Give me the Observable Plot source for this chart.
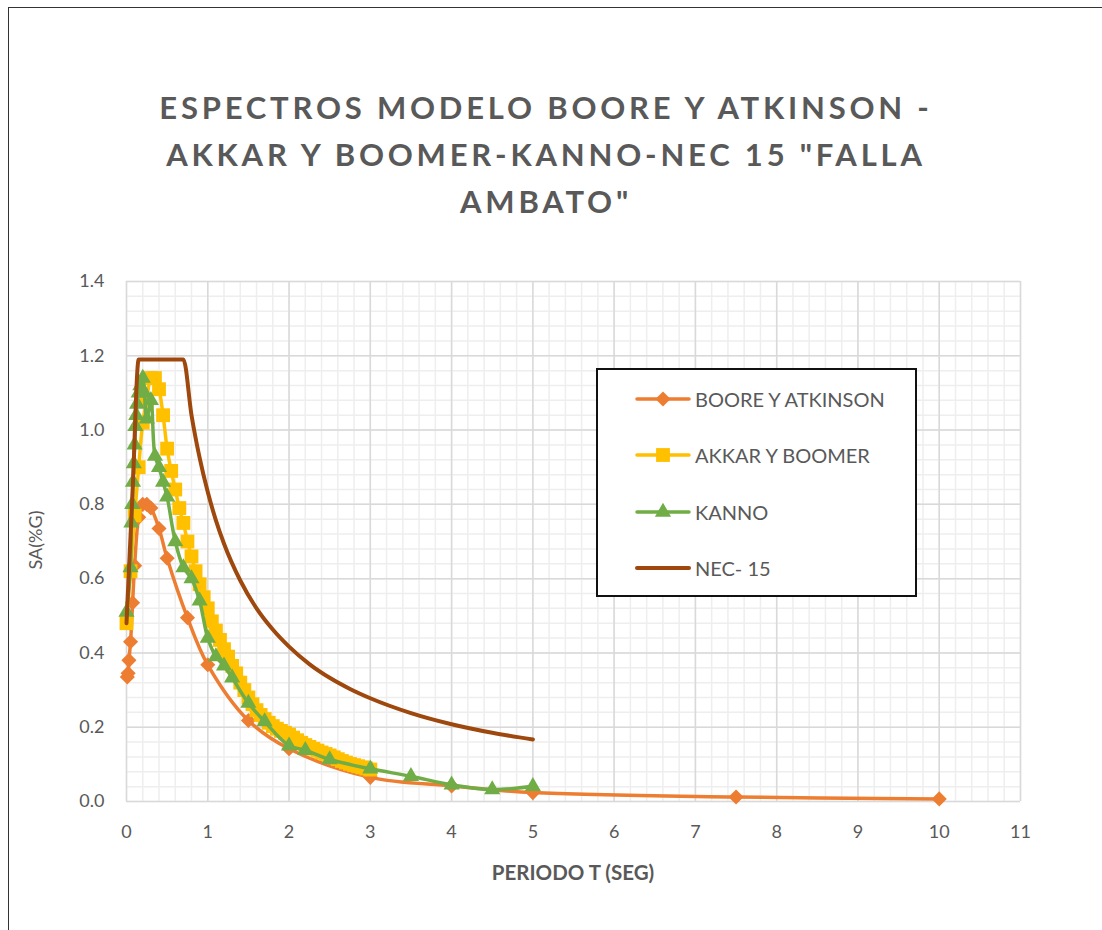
<!DOCTYPE html>
<html><head><meta charset="utf-8">
<script src="https://cdn.jsdelivr.net/npm/d3@7"></script>
<script src="https://cdn.jsdelivr.net/npm/@observablehq/plot@0.6"></script>
<style>
html,body{margin:0;padding:0;background:#fff;}
body{width:1102px;height:930px;overflow:hidden;position:relative;font-family:Lato,"Open Sans",sans-serif;}
#frame{position:absolute;left:8px;top:7px;width:1100px;height:930px;border-top:1.5px solid #333;border-left:1.5px solid #333;}
#title{position:absolute;left:0;width:1092px;top:84px;text-align:center;font-weight:700;font-size:31px;letter-spacing:3.8px;line-height:47px;color:#595959;}
#chart{position:absolute;left:0;top:260px;}
#ylab{position:absolute;left:35px;top:540px;transform:translate(-50%,-50%) rotate(-90deg);font-size:18px;color:#595959;white-space:nowrap;}
#xlab{position:absolute;left:573px;top:872px;transform:translate(-50%,-50%);font-size:20.5px;font-weight:700;color:#595959;white-space:nowrap;}
#legend{position:absolute;left:596px;top:368px;width:317px;height:225px;border:2px solid #111;background:#fff;}
.lrow{position:absolute;left:37px;height:24px;display:flex;align-items:center;font-size:20px;color:#595959;white-space:nowrap;}
.lrow svg{margin-right:4px;}
</style>
</head><body>
<div id="frame"></div>
<div id="title">ESPECTROS MODELO BOORE Y ATKINSON -<br>AKKAR Y BOOMER-KANNO-NEC 15 "FALLA<br>AMBATO"</div>
<div id="chart"></div>
<div id="ylab">SA(%G)</div>
<div id="xlab">PERIODO T (SEG)</div>
<div id="legend"></div>
<script>
// ---- Data ----
const seriesNames = ["BOORE Y ATKINSON", "AKKAR Y BOOMER", "KANNO", "NEC- 15"];

const booreT  = [0.01, 0.02, 0.03, 0.05, 0.075, 0.1, 0.15, 0.2, 0.25, 0.3, 0.4, 0.5, 0.75, 1, 1.5, 2, 3, 4, 5, 7.5, 10];
const booreSa = [0.335, 0.345, 0.38, 0.43, 0.535, 0.635, 0.765, 0.80, 0.80, 0.79, 0.735, 0.655, 0.495, 0.368, 0.218, 0.142, 0.065, 0.042, 0.024, 0.012, 0.007];

const akkarT = [0.00,0.05,0.10,0.15,0.20,0.25,0.30,0.35,0.40,0.45,0.50,0.55,0.60,0.65,0.70,0.75,0.80,0.85,0.90,0.95,
                1.00,1.05,1.10,1.15,1.20,1.25,1.30,1.35,1.40,1.45,1.50,1.55,1.60,1.65,1.70,1.75,1.80,1.85,1.90,1.95,
                2.00,2.05,2.10,2.15,2.20,2.25,2.30,2.35,2.40,2.45,2.50,2.55,2.60,2.65,2.70,2.75,2.80,2.85,2.90,2.95,3.00];
const akkarSa = [0.48,0.62,0.77,0.90,1.02,1.08,1.14,1.14,1.11,1.04,0.95,0.89,0.84,0.79,0.75,0.70,0.66,0.62,0.585,0.55,
                 0.52,0.485,0.46,0.435,0.41,0.39,0.365,0.345,0.32,0.30,0.28,0.262,0.246,0.233,0.222,0.212,0.203,0.196,0.19,0.185,
                 0.18,0.172,0.165,0.158,0.152,0.147,0.142,0.137,0.132,0.128,0.124,0.119,0.114,0.109,0.105,0.101,0.098,0.095,0.092,0.089,0.086];

const kannoT  = [0, 0.05, 0.06, 0.07, 0.08, 0.09, 0.10, 0.11, 0.12, 0.13, 0.15, 0.17, 0.20, 0.22, 0.25, 0.30, 0.35, 0.40, 0.45, 0.50,
                 0.60, 0.70, 0.80, 0.90, 1.0, 1.1, 1.2, 1.3, 1.5, 1.7, 2.0, 2.2, 2.5, 3.0, 3.5, 4.0, 4.5, 5.0];
const kannoSa = [0.51, 0.63, 0.75, 0.80, 0.86, 0.91, 0.96, 1.01, 1.04, 1.07, 1.10, 1.12, 1.14, 1.10, 1.03, 1.08, 0.93, 0.90, 0.86, 0.82,
                 0.70, 0.63, 0.60, 0.54, 0.44, 0.39, 0.365, 0.333, 0.265, 0.215, 0.15, 0.138, 0.113, 0.088, 0.068, 0.045, 0.032, 0.041];

const necT  = [0, 0.075, 0.15, 0.3, 0.5, 0.7, 0.8, 0.9, 1.0, 1.1, 1.2, 1.4, 1.6, 1.8, 2.0, 2.25, 2.5, 2.75, 3.0, 3.5, 4.0, 4.5, 5.0];
const necSa = [0.48, 0.835, 1.19, 1.19, 1.19, 1.19, 1.04, 0.925, 0.833, 0.757, 0.694, 0.595, 0.52, 0.463, 0.417, 0.37, 0.333, 0.303, 0.278, 0.238, 0.208, 0.185, 0.167];

const xTicks = [0,1,2,3,4,5,6,7,8,9,10,11];
const yTicks = [0,0.2,0.4,0.6,0.8,1.0,1.2,1.4];
const xMinor = d3.range(0, 11.001, 0.2);
const yMinor = d3.range(0, 1.4001, 0.04);

const colors = {ba:"#ED7D31", ab:"#FFC000", ka:"#70AD47", nec:"#9E480E"};
const sizes = {ba: 6.8, ab: 7.8, ka: 6.0};

const toRows = (T, S) => T.map((t, i) => ({T: t, Sa: S[i]}));
const ba = toRows(booreT, booreSa);
const ab = toRows(akkarT, akkarSa);
const ka = toRows(kannoT, kannoSa);
const nec = toRows(necT, necSa);

const chart = Plot.plot({
  width: 1102, height: 640,
  marginLeft: 126, marginRight: 82, marginTop: 21, marginBottom: 99,
  style: {fontFamily: "Lato, 'Open Sans', sans-serif", fontSize: "18px", color: "#595959", background: "transparent", overflow: "visible"},
  x: {domain: [0, 11], ticks: xTicks, tickSize: 0, tickPadding: 24, label: null, tickFormat: d => String(d)},
  y: {domain: [0, 1.4], ticks: yTicks, tickSize: 0, tickPadding: 22, label: null, tickFormat: d3.format(".1f")},
  marks: [
    Plot.ruleX(xMinor, {stroke: "#eeeeee", strokeWidth: 1.5}),
    Plot.ruleY(yMinor, {stroke: "#eeeeee", strokeWidth: 1.5}),
    Plot.ruleX(xTicks, {stroke: "#d9d9d9", strokeWidth: 1.5}),
    Plot.ruleY(yTicks, {stroke: "#d9d9d9", strokeWidth: 1.5}),
    Plot.line(ba, {x: "T", y: "Sa", stroke: colors.ba, strokeWidth: 3.5, curve: "catmull-rom"}),
    Plot.dot(ba, {x: "T", y: "Sa", symbol: "diamond2", fill: colors.ba, r: sizes.ba}),
    Plot.line(ab, {x: "T", y: "Sa", stroke: colors.ab, strokeWidth: 3.5, curve: "catmull-rom"}),
    Plot.dot(ab, {x: "T", y: "Sa", symbol: "square", fill: colors.ab, r: sizes.ab}),
    Plot.line(ka, {x: "T", y: "Sa", stroke: colors.ka, strokeWidth: 3.5, curve: "catmull-rom"}),
    Plot.dot(ka, {x: "T", y: "Sa", symbol: "triangle", fill: colors.ka, r: sizes.ka}),
    Plot.line(nec, {x: "T", y: "Sa", stroke: colors.nec, strokeWidth: 4, curve: "monotone-x"})
  ]
});
document.getElementById("chart").appendChild(chart);

// ---- Legend ----
const legend = document.getElementById("legend");
const symbols = [
  {name: seriesNames[0], color: colors.ba, sym: d3.symbolDiamond2, r: sizes.ba},
  {name: seriesNames[1], color: colors.ab, sym: d3.symbolSquare, r: sizes.ab},
  {name: seriesNames[2], color: colors.ka, sym: d3.symbolTriangle, r: sizes.ka},
  {name: seriesNames[3], color: colors.nec, sym: null, r: 0}
];
const rowTops = [17, 73, 130, 186];
symbols.forEach((s, i) => {
  const row = document.createElement("div");
  row.className = "lrow";
  row.style.top = rowTops[i] + "px";
  const svg = d3.create("svg").attr("width", 56).attr("height", 24);
  svg.append("line").attr("x1", 2).attr("x2", 54).attr("y1", 12).attr("y2", 12)
     .attr("stroke", s.color).attr("stroke-width", s.sym ? 3.5 : 4).attr("stroke-linecap", "round");
  if (s.sym) {
    svg.append("path").attr("transform", "translate(28,12)")
       .attr("d", d3.symbol(s.sym, Math.PI * s.r * s.r)()).attr("fill", s.color);
  }
  row.appendChild(svg.node());
  const t = document.createElement("span");
  t.textContent = s.name;
  row.appendChild(t);
  legend.appendChild(row);
});
</script>
</body></html>
